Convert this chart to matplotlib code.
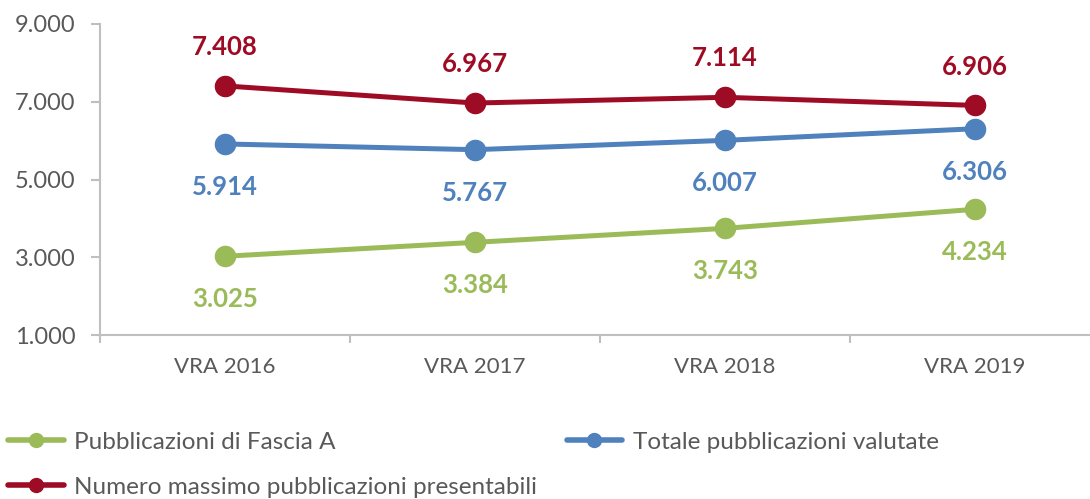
import matplotlib
matplotlib.use("Agg")
import matplotlib.pyplot as plt
from matplotlib.ticker import FuncFormatter

plt.rcParams["font.family"] = ["Lato", "DejaVu Sans"]

categories = ["VRA 2016", "VRA 2017", "VRA 2018", "VRA 2019"]
fascia_a = [3025, 3384, 3743, 4234]
totale = [5914, 5767, 6007, 6306]
massimo = [7408, 6967, 7114, 6906]

names = [
    "Pubblicazioni di Fascia A",
    "Totale pubblicazioni valutate",
    "Numero massimo pubblicazioni presentabili",
]
colors = ["#9BBB59", "#4F81BD", "#9E0B24"]
label_offsets = [-31, -31, 28]  # points, negative = below the marker

GREY = "#595959"
AXIS = "#BFBFBF"


def fmt(v):
    return "{:,}".format(int(v)).replace(",", ".")


fig = plt.figure(figsize=(10.9, 4.99), dpi=100)
ax = fig.add_axes([100 / 1090, 1 - 335 / 499, 1000 / 1090, 311 / 499])

x = range(len(categories))
handles = []
for series, name, col, off in zip(
    [fascia_a, totale, massimo], names, colors, label_offsets
):
    (h,) = ax.plot(
        x, series, color=col, lw=3.6, marker="o", ms=14.5,
        solid_capstyle="round", label=name, zorder=3,
    )
    handles.append(h)
    for xi, v in zip(x, series):
        ax.annotate(
            fmt(v), (xi, v), xytext=(0, off), textcoords="offset points",
            ha="center", va="center", color=col, fontsize=18.5,
            fontweight="bold",
        )

ax.set_xlim(-0.5, len(categories) - 0.5)
ax.set_ylim(1000, 9000)
ax.set_yticks(range(1000, 9001, 2000))
ax.yaxis.set_major_formatter(FuncFormatter(lambda v, p: fmt(v)))
ax.set_xticks(x)
ax.set_xticklabels(categories)
ax.set_xticks([i - 0.5 for i in range(len(categories) + 1)], minor=True)

for s in ["top", "right"]:
    ax.spines[s].set_visible(False)
for s in ["left", "bottom"]:
    ax.spines[s].set_color(AXIS)
    ax.spines[s].set_linewidth(1.5)

ax.tick_params(axis="y", length=6.5, width=1.5, color=AXIS, pad=11,
               labelsize=17, labelcolor=GREY)
ax.tick_params(axis="x", which="major", length=0, pad=16,
               labelsize=16, labelcolor=GREY)
ax.tick_params(axis="x", which="minor", length=6, width=1.5, color=AXIS)

leg_kw = dict(
    frameon=False, fontsize=17.5, handlelength=2.3, handletextpad=0.42,
    borderaxespad=0, borderpad=0, labelcolor=GREY, loc="center left",
)
leg1 = fig.legend(
    [handles[0], handles[1]], [names[0], names[1]], ncol=2,
    columnspacing=9.5, bbox_to_anchor=(8 / 1090, 1 - 442 / 499), **leg_kw
)
leg2 = fig.legend(
    [handles[2]], [names[2]], bbox_to_anchor=(8 / 1090, 1 - 487 / 499),
    **leg_kw
)
for leg in (leg1, leg2):
    for lh in leg.legend_handles:
        lh.set_markersize(10)
        lh.set_linewidth(4)

fig.savefig("out.png", dpi=100)
